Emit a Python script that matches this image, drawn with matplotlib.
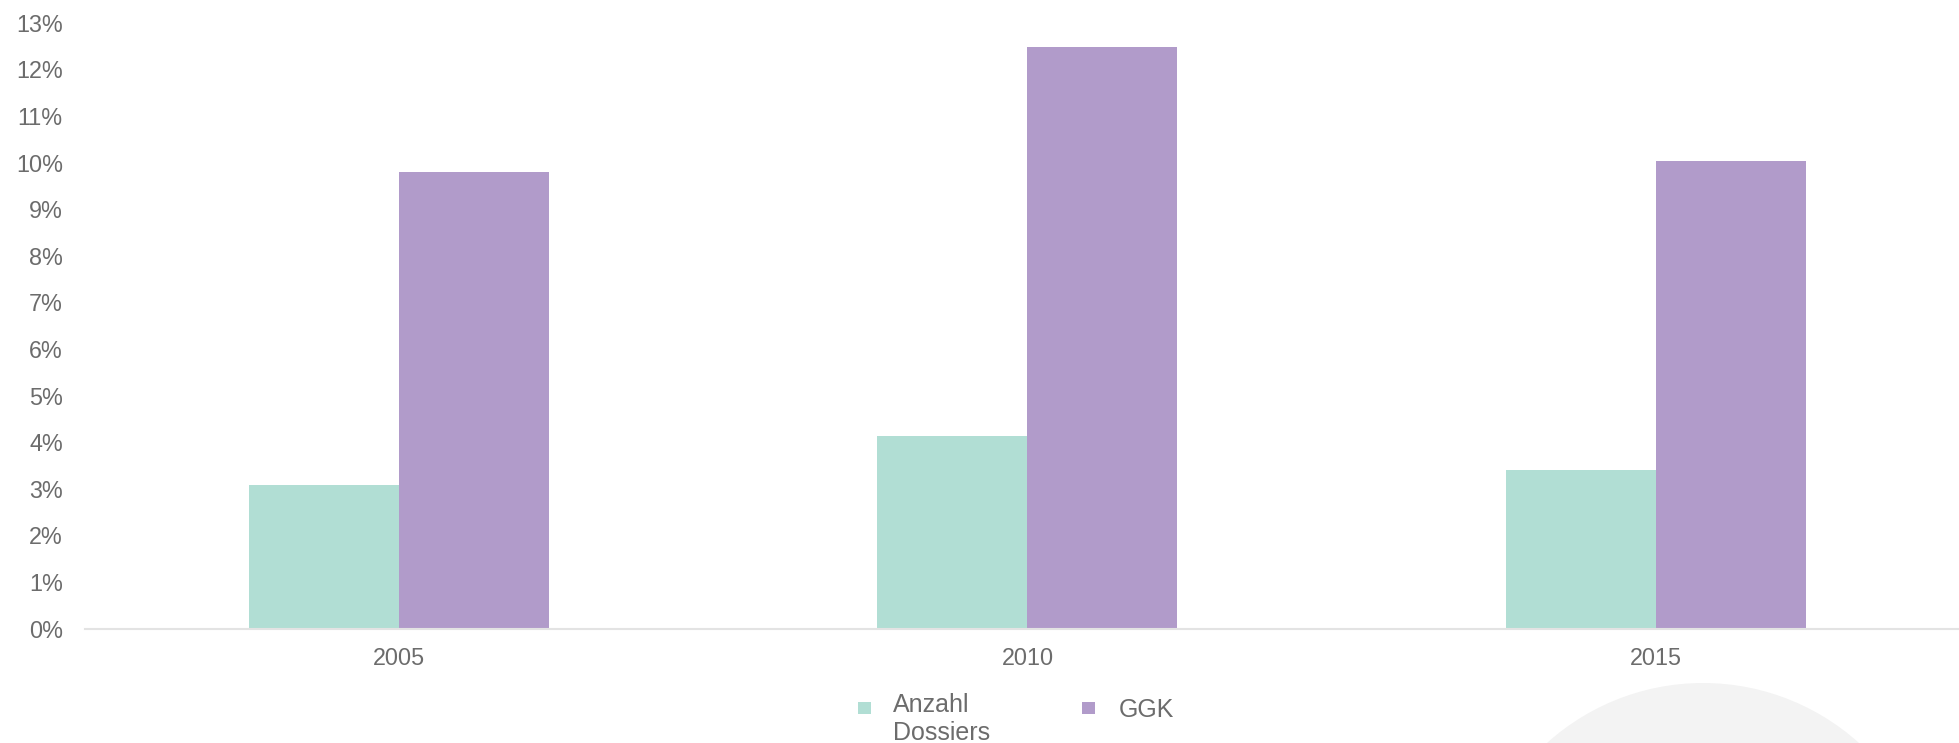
import matplotlib
matplotlib.use("Agg")
import matplotlib.pyplot as plt
from matplotlib.patches import Ellipse, Rectangle
import numpy as np

plt.rcParams['font.family'] = ['Liberation Sans', 'DejaVu Sans']

years = ["2005", "2010", "2015"]
series_names = ["Anzahl\nDossiers", "GGK"]
anzahl_dossiers = [3.08, 4.13, 3.41]
ggk = [9.80, 12.47, 10.03]
yticks = list(range(0, 14))

teal = "#b1ded4"
purple = "#b19bca"
text_col = "#6c6c6c"

W, H = 1959, 743
fig = plt.figure(figsize=(W / 100, H / 100), dpi=100)
fig.patch.set_facecolor("white")

# decorative background circle
fig.patches.append(Ellipse((1703 / W, 1 - 916 / H), 2 * 233 / W, 2 * 233 / H,
                           transform=fig.transFigure, facecolor="#f3f3f3",
                           edgecolor="none", zorder=0))

ax = fig.add_axes([85 / W, 1 - 628.6 / H, (1958 - 85) / W, (628.6 - 22.8) / H])
ax.set_facecolor("none")

x = np.arange(len(years))
w = 0.2387
ax.bar(x - w / 2, anzahl_dossiers, width=w, color=teal, zorder=2)
ax.bar(x + w / 2, ggk, width=w, color=purple, zorder=2)

ax.set_xlim(-0.5, 2.481)
ax.set_ylim(0, 13)
ax.set_yticks(yticks)
ax.set_yticklabels([f"{v}%" for v in yticks])
ax.set_xticks(x)
ax.set_xticklabels(years)

for s in ["top", "right", "left"]:
    ax.spines[s].set_visible(False)
ax.spines["bottom"].set_color("#e3e3e3")
ax.spines["bottom"].set_linewidth(1.5)
ax.tick_params(axis="both", length=0, labelsize=16.8, colors=text_col)
ax.tick_params(axis="y", pad=16)
ax.tick_params(axis="x", pad=13)

# legend (manual)
colors = [teal, purple]
sq_x = [858, 1082]
txt_x = [893, 1119]
for name, c, sx, tx in zip(series_names, colors, sq_x, txt_x):
    fig.patches.append(Rectangle((sx / W, 1 - 714 / H), 13 / W, 12 / H,
                                 transform=fig.transFigure, facecolor=c,
                                 edgecolor="none"))
    n_lines = name.count("\n") + 1
    ty = 693 if n_lines > 1 else 698
    fig.text(tx / W, 1 - ty / H, name, ha="left", va="top", fontsize=18,
             color=text_col, linespacing=1.2)

fig.savefig("out.png", dpi=100)
